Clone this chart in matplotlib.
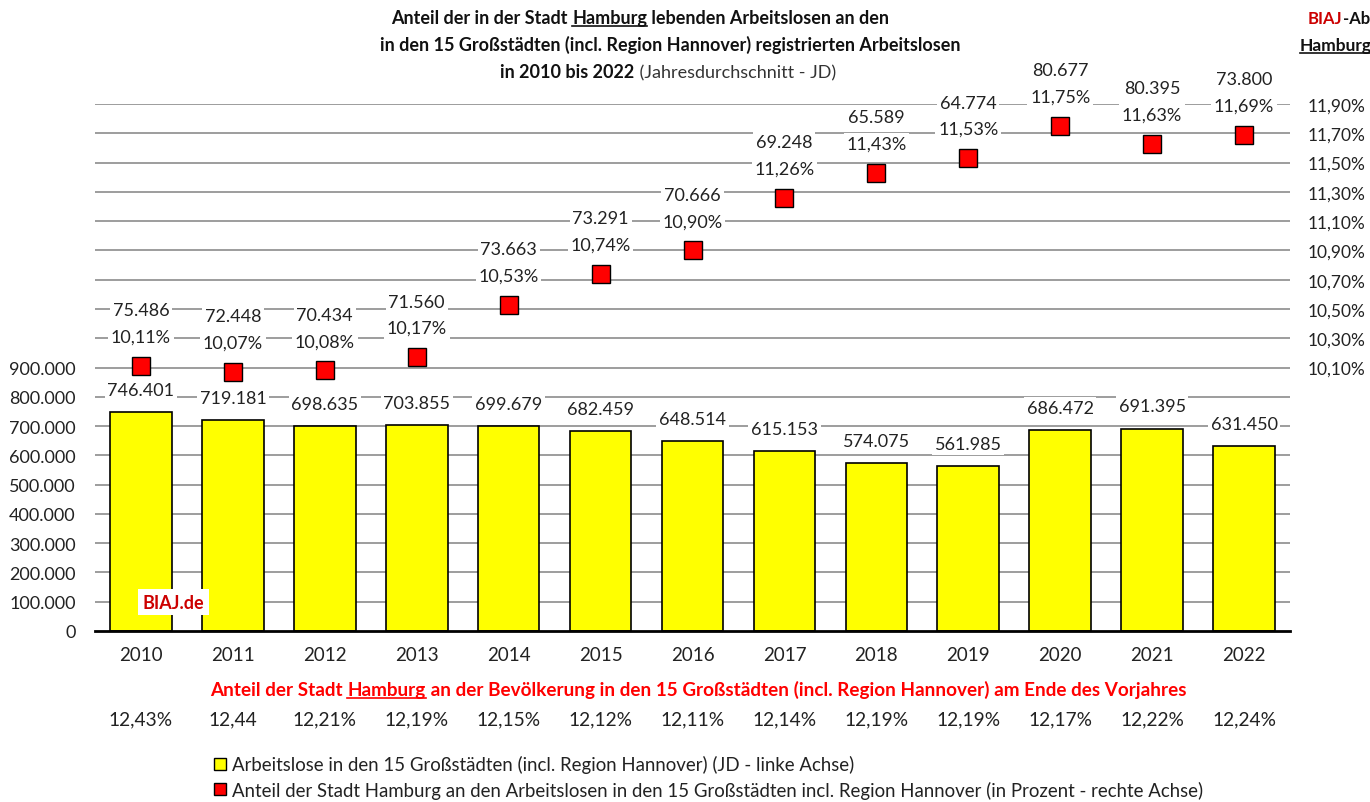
import matplotlib
matplotlib.use("Agg")
import matplotlib.pyplot as plt
from matplotlib.lines import Line2D
import numpy as np

plt.rcParams['font.family'] = ['Lato', 'DejaVu Sans']

years = ['2010', '2011', '2012', '2013', '2014', '2015', '2016',
         '2017', '2018', '2019', '2020', '2021', '2022']
# Arbeitslose in den 15 Grossstaedten (JD)
al_15 = [746401, 719181, 698635, 703855, 699679, 682459, 648514,
         615153, 574075, 561985, 686472, 691395, 631450]
# Arbeitslose Hamburg (JD)
al_hh = [75486, 72448, 70434, 71560, 73663, 73291, 70666,
         69248, 65589, 64774, 80677, 80395, 73800]
# Anteil Hamburg in Prozent
anteil = [10.11, 10.07, 10.08, 10.17, 10.53, 10.74, 10.90,
          11.26, 11.43, 11.53, 11.75, 11.63, 11.69]
# Bevoelkerungsanteil am Ende des Vorjahres
bev = ['12,43%', '12,44', '12,21%', '12,19%', '12,15%', '12,12%', '12,11%',
       '12,14%', '12,19%', '12,19%', '12,17%', '12,22%', '12,24%']

def de_int(v):
    return f'{v:,}'.replace(',', '.')

def de_pct(v):
    return f'{v:.2f}%'.replace('.', ',')

W, H = 1370, 803
fig = plt.figure(figsize=(W / 100, H / 100), dpi=100)
ax = fig.add_axes([95 / W, (H - 632) / H, (1290 - 95) / W, (632 - 105) / H])
ax2 = ax.twinx()

x = np.arange(len(years))
grid_c = '#8c8c8c'
for v in range(100000, 1800001, 100000):
    ax.axhline(v, color=grid_c, lw=1.2, zorder=0)

ax.bar(x, al_15, width=0.67, color='#ffff00', edgecolor='black', lw=1.2, zorder=2)
ax.set_xlim(-0.5, len(years) - 0.5)
ax.set_ylim(0, 1800000)
ax.set_yticks(range(0, 900001, 100000))
ax.set_yticklabels([de_int(v) for v in range(0, 900001, 100000)])
ax.set_xticks(x)
ax.set_xticklabels(years)
ax.tick_params(axis='y', length=0, pad=14, labelsize=13, labelcolor='#222222')
ax.tick_params(axis='x', length=0, pad=11, labelsize=13.5, labelcolor='#222222')
for s in ['top', 'left', 'right']:
    ax.spines[s].set_visible(False)
ax.spines['bottom'].set_linewidth(2)
ax.spines['bottom'].set_zorder(5)

for xi, v in zip(x, al_15):
    ax.annotate(de_int(v), (xi, v), xytext=(0, 16), textcoords='offset points',
                ha='center', va='center', fontsize=13, color='#222222', zorder=4,
                bbox=dict(boxstyle='square,pad=0.15', fc='white', ec='none'))

ax2.plot(x, anteil, ls='none', marker='s', ms=13, mfc='#ff0000', mec='black',
         mew=1.0, zorder=5, clip_on=False)
ax2.set_ylim(8.3, 11.9)
rt = np.round(np.arange(10.1, 11.95, 0.2), 2)
ax2.set_yticks(rt)
ax2.set_yticklabels([de_pct(v) for v in rt])
ax2.tick_params(axis='y', length=0, pad=13, labelsize=12.5, labelcolor='#222222')
for s in ax2.spines.values():
    s.set_visible(False)

for xi, p, n in zip(x, anteil, al_hh):
    ax2.annotate(de_pct(p), (xi, p), xytext=(0, 21), textcoords='offset points',
                 ha='center', va='center', fontsize=13, color='#222222', zorder=6,
                 bbox=dict(boxstyle='square,pad=0.15', fc='white', ec='none'),
                 annotation_clip=False)
    ax2.annotate(de_int(n), (xi, p), xytext=(0, 40), textcoords='offset points',
                 ha='center', va='center', fontsize=13, color='#222222', zorder=6,
                 bbox=dict(boxstyle='square,pad=0.15', fc='white', ec='none'),
                 annotation_clip=False)

ax.text(0.354, 98000, 'BIAJ.de', ha='center', va='center', fontsize=13,
        weight='bold', color='#cc0000', zorder=6,
        bbox=dict(boxstyle='square,pad=0.25', fc='white', ec='none'))

# Bevoelkerungsanteile unter den Jahren
for xi, b in zip(x, bev):
    fig.text(ax.transData.transform((xi, 0))[0] / W, 1 - 720 / H, b,
             ha='center', va='center', fontsize=13.8, color='#222222')

renderer = fig.canvas.get_renderer()

def seg_line(xc, y, segs, size, align='center'):
    texts = []
    for s, w, c, u in segs:
        t = fig.text(0, y, s, fontsize=size, weight=w, color=c,
                     ha='left', va='baseline')
        texts.append((t, u))
    widths = [t.get_window_extent(renderer).width for t, u in texts]
    total = sum(widths)
    x0 = xc * W - (total / 2 if align == 'center' else 0)
    for (t, u), w in zip(texts, widths):
        t.set_x(x0 / W)
        if u:
            fig.add_artist(Line2D([x0 / W, (x0 + w) / W], [y - 3 / H, y - 3 / H],
                                  transform=fig.transFigure, color=t.get_color(), lw=1.2))
        x0 += w

tc = '#111111'
seg_line(640 / W, 1 - 24 / H, [('Anteil der in der Stadt ', 'bold', tc, False),
                               ('Hamburg', 'bold', tc, True),
                               (' lebenden Arbeitslosen an den', 'bold', tc, False)], 13)
seg_line(670 / W, 1 - 51 / H, [('in den 15 Großstädten (incl. Region Hannover) registrierten Arbeitslosen',
                                'bold', tc, False)], 13)
seg_line(668 / W, 1 - 78 / H, [('in 2010 bis 2022', 'bold', tc, False),
                               (' (Jahresdurchschnitt - JD)', 'normal', '#333333', False)], 13)
# Kopf rechts (im Original am Rand angeschnitten)
seg_line(1308 / W, 1 - 24 / H, [('BIAJ', 'bold', '#cc0000', False),
                                ('-Abb. 3', 'bold', tc, False)], 12, align='left')
seg_line(1300 / W, 1 - 51 / H, [('Hamburg', 'bold', tc, True)], 12.5, align='left')

rc = '#ff0000'
seg_line(698 / W, 1 - 696 / H, [('Anteil der Stadt ', 'bold', rc, False),
                                ('Hamburg', 'bold', rc, True),
                                (' an der Bevölkerung in den 15 Großstädten (incl. Region Hannover) am Ende des Vorjahres',
                                 'bold', rc, False)], 13.6)

handles = [Line2D([], [], ls='none', marker='s', ms=8, mfc='#ffff00', mec='black', mew=1),
           Line2D([], [], ls='none', marker='s', ms=8, mfc='#ff0000', mec='black', mew=1)]
labels = ['Arbeitslose in den 15 Großstädten (incl. Region Hannover) (JD - linke Achse)',
          'Anteil der Stadt Hamburg an den Arbeitslosen in den 15 Großstädten incl. Region Hannover (in Prozent - rechte Achse)']
fig.legend(handles, labels, loc='upper left', bbox_to_anchor=(203 / W, 1 - 747 / H),
           frameon=False, fontsize=13.4, handletextpad=0.25, handlelength=0.8,
           labelspacing=0.38, borderpad=0, labelcolor='#222222')

fig.savefig('out.png', dpi=100)
